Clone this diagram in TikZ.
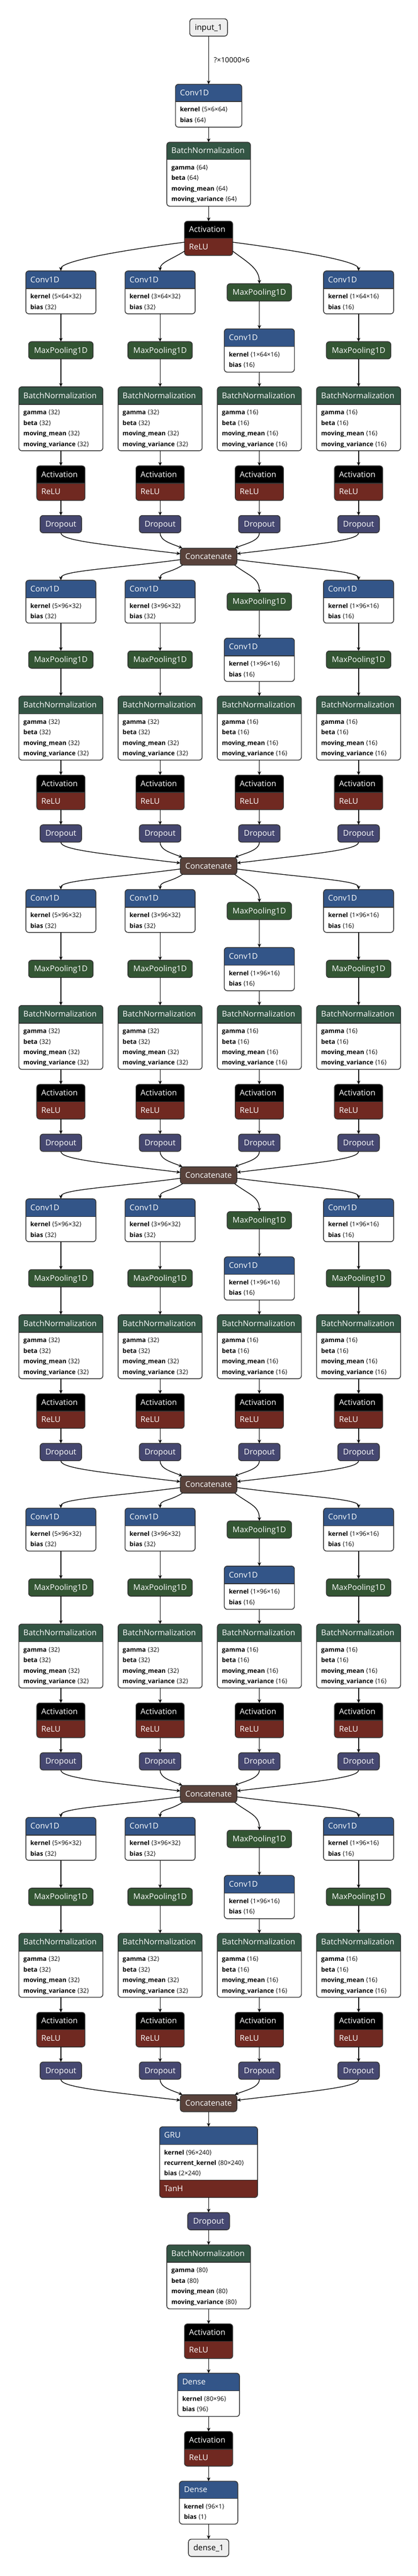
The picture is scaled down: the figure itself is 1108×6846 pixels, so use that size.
\documentclass[tikz,border=0pt]{standalone}
\usepackage{fontspec}
\setmainfont{Open Sans}
\newfontfamily\brk{DejaVu Sans}
\usetikzlibrary{arrows.meta}

\definecolor{layercol}{HTML}{335588}
\definecolor{normcol}{HTML}{335544}
\definecolor{poolcol}{HTML}{335533}
\definecolor{actcol}{HTML}{702921}
\definecolor{dropcol}{HTML}{454770}
\definecolor{tensorcol}{HTML}{59423B}
\definecolor{iocol}{HTML}{EEEEEE}
\definecolor{linecol}{HTML}{333333}

\tikzset{
  % Netron like arrow tips
  >={Stealth[length=10pt,width=9pt,inset=3pt]},
  line/.style={draw, line width=1.8pt, ->},
  frame/.style={rectangle, inner sep=0pt, outer sep=0pt, anchor=north},
  border/.style={draw=linecol, line width=2pt, rounded corners=8pt},
  sepline/.style={draw=linecol, line width=2pt},
  headtxt/.style={anchor=base west, inner sep=0pt, text=white, font=\fontsize{21}{25}\selectfont},
  bodytxt/.style={anchor=base west, inner sep=0pt, font=\fontsize{16.5}{20}\selectfont},
  opbox/.style={frame, draw=linecol, line width=2pt, rounded corners=8pt, text height=16pt, text depth=2pt, font=\fontsize{21}{25}\selectfont}
}

\newcommand{\dims}[1]{{\brk ⟨}#1{\brk ⟩}}

% name, centre x, width, top, bottom, split, colour, title, attributes
\newcommand{\layer}[9]{%
  \node[frame, minimum width=#3pt, minimum height={((#5)-(#4))*1pt}] (#1) at (#2,#4) {};
  \begin{scope}
    \clip[rounded corners=8pt] (#1.north west) rectangle (#1.south east);
    \fill[white] (#1.north west) rectangle (#1.south east);
    \fill[#7] (#1.north west) rectangle ({(#2)+(#3)/2},#6);
  \end{scope}
  \draw[sepline] ({(#2)-(#3)/2},#6) -- ({(#2)+(#3)/2},#6);
  \draw[border] (#1.north west) rectangle (#1.south east);
  \node[headtxt] at ({(#2)-(#3)/2+12},{((#4)+(#6))/2+7}) {#8};
  \foreach \nm/\val [count=\k] in {#9}
    \node[bodytxt] at ({(#2)-(#3)/2+12},{(#6)+27+28*(\k-1)}) {\textbf{\nm} \dims{\val}};
}

% name, centre x, top, bottom, split
\newcommand{\actbox}[5]{%
  \node[frame, minimum width=128pt, minimum height={((#4)-(#3))*1pt}] (#1) at (#2,#3) {};
  \begin{scope}
    \clip[rounded corners=8pt] (#1.north west) rectangle (#1.south east);
    \fill[actcol] (#1.north west) rectangle (#1.south east);
    \fill[black] (#1.north west) rectangle ({(#2)+64},#5);
  \end{scope}
  \draw[sepline] ({(#2)-64},#5) -- ({(#2)+64},#5);
  \draw[border] (#1.north west) rectangle (#1.south east);
  \node[headtxt] at ({(#2)-52},{((#3)+(#5))/2+7}) {Activation};
  \node[headtxt] at ({(#2)-52},{((#5)+(#4))/2+7}) {ReLU};
}

\begin{document}
\begin{tikzpicture}[x=1pt, y=-1pt]
  \fill[white] (0,0) rectangle (1108,6846);
  \useasboundingbox (0,0) rectangle (1108,6846);

  % stem
  \node[opbox, fill=iocol, text=black, minimum width=100pt, minimum height=46pt] (input) at (553.5,50) {input\_1};
  \layer{conv0}{553.5}{176}{224}{338}{270}{layercol}{Conv1D}{kernel/5×6×64, bias/64}
  \layer{bn0}{553.5}{222}{378}{548}{424}{normcol}{BatchNormalization}{gamma/64, beta/64, moving\_mean/64, moving\_variance/64}
  \actbox{act0}{553.5}{588}{679}{633}

  \draw[line] (input.south) -- node[anchor=west, xshift=13pt, inner sep=0pt, font=\fontsize{19}{22}\selectfont] {?×10000×6} (conv0.north);
  \draw[line] (conv0.south) -- (bn0.north);
  \draw[line] (bn0.south) -- (act0.north);

  % inception blocks
  \foreach \i in {1,...,6} {
    \pgfmathsetmacro{\dy}{822*(\i-1)}
    \ifnum\i=1
      \def\chin{64}\def\src{act0}\def\aA{189}\def\aB{208}\def\aC{332}\def\aD{351}
    \else
      \pgfmathtruncatemacro{\prev}{\i-1}
      \edef\src{cat\prev}\def\chin{96}\def\aA{186}\def\aB{198}\def\aC{342}\def\aD{354}
    \fi
    \layer{convA\i}{161.5}{186}{720+\dy}{834+\dy}{767+\dy}{layercol}{Conv1D}{kernel/5×\chin×32, bias/32}
    \layer{convB\i}{424.8}{186}{720+\dy}{834+\dy}{767+\dy}{layercol}{Conv1D}{kernel/3×\chin×32, bias/32}
    \node[opbox, fill=poolcol, text=white, minimum width=171pt, minimum height=46pt] (poolC\i) at (688.1,754+\dy) {MaxPooling1D};
    \layer{convD\i}{951.4}{186}{720+\dy}{834+\dy}{767+\dy}{layercol}{Conv1D}{kernel/1×\chin×16, bias/16}

    \node[opbox, fill=poolcol, text=white, minimum width=171pt, minimum height=46pt] (poolA\i) at (161.5,908+\dy) {MaxPooling1D};
    \node[opbox, fill=poolcol, text=white, minimum width=171pt, minimum height=46pt] (poolB\i) at (424.8,908+\dy) {MaxPooling1D};
    \layer{convC\i}{688.1}{186}{874+\dy}{989+\dy}{921+\dy}{layercol}{Conv1D}{kernel/1×\chin×16, bias/16}
    \node[opbox, fill=poolcol, text=white, minimum width=171pt, minimum height=46pt] (poolD\i) at (951.4,908+\dy) {MaxPooling1D};

    \foreach \col/\cx/\nv in {A/161.5/32, B/424.8/32, C/688.1/16, D/951.4/16} {
      \layer{bn\col\i}{\cx}{223}{1028+\dy}{1198+\dy}{1075+\dy}{normcol}{BatchNormalization}{gamma/\nv, beta/\nv, moving\_mean/\nv, moving\_variance/\nv}
      \actbox{act\col\i}{\cx}{1238+\dy}{1330+\dy}{1284+\dy}
      \node[opbox, fill=dropcol, text=white, minimum width=110pt, minimum height=46pt] (drop\col\i) at (\cx,1370+\dy) {Dropout};
      \draw[line] (bn\col\i.south) -- (act\col\i.north);
      \draw[line] (act\col\i.south) -- (drop\col\i.north);
    }
    \node[opbox, fill=tensorcol, text=white, minimum width=150pt, minimum height=45pt] (cat\i) at (553.5,1457+\dy) {Concatenate};

    % edges into the block
    \draw[line] (\src.\aA) .. controls +(-190,25) and +(0,-25) .. (convA\i.north);
    \draw[line] (\src.\aB) .. controls +(-35,22) and +(0,-22) .. (convB\i.north);
    \draw[line] (\src.\aC) .. controls +(40,30) and +(0,-40) .. (poolC\i.north);
    \draw[line] (\src.\aD) .. controls +(190,25) and +(0,-25) .. (convD\i.north);
    \draw[line] (convA\i.south) -- (poolA\i.north);
    \draw[line] (convB\i.south) -- (poolB\i.north);
    \draw[line] (poolC\i.south) -- (convC\i.north);
    \draw[line] (convD\i.south) -- (poolD\i.north);
    \draw[line] (poolA\i.south) -- (bnA\i.north);
    \draw[line] (poolB\i.south) -- (bnB\i.north);
    \draw[line] (convC\i.south) -- (bnC\i.north);
    \draw[line] (poolD\i.south) -- (bnD\i.north);
    % edges into concatenate
    \draw[line] (dropA\i.south) .. controls +(0,20) and +(-220,-26) .. (cat\i.174);
    \draw[line] (dropB\i.south) .. controls +(0,22) and +(-28,-12) .. (cat\i.162);
    \draw[line] (dropC\i.south) .. controls +(0,22) and +(28,-12) .. (cat\i.18);
    \draw[line] (dropD\i.south) .. controls +(0,20) and +(220,-26) .. (cat\i.6);
  }

  % recurrent head
  \node[frame, minimum width=260pt, minimum height=188pt] (gru) at (553.5,5652) {};
  \begin{scope}
    \clip[rounded corners=8pt] (gru.north west) rectangle (gru.south east);
    \fill[actcol] (gru.north west) rectangle (gru.south east);
    \fill[white] (423.5,5699) rectangle (683.5,5794);
    \fill[layercol] (gru.north west) rectangle (683.5,5699);
  \end{scope}
  \draw[sepline] (423.5,5699) -- (683.5,5699);
  \draw[sepline] (423.5,5794) -- (683.5,5794);
  \draw[border] (gru.north west) rectangle (gru.south east);
  \node[headtxt] at (435.5,5682) {GRU};
  \foreach \nm/\val [count=\k] in {kernel/96×240, recurrent\_kernel/80×240, bias/2×240}
    \node[bodytxt] at (435.5,{5726+28*(\k-1)}) {\textbf{\nm} \dims{\val}};
  \node[headtxt] at (435.5,5824) {TanH};

  \node[opbox, fill=dropcol, text=white, minimum width=111pt, minimum height=46pt] (drop7) at (553.5,5880) {Dropout};
  \layer{bn7}{553.5}{222}{5966}{6136}{6012}{normcol}{BatchNormalization}{gamma/80, beta/80, moving\_mean/80, moving\_variance/80}
  \actbox{act7}{553.5}{6176}{6268}{6222}
  \layer{dense0}{553.5}{164}{6307}{6422}{6354}{layercol}{Dense}{kernel/80×96, bias/96}
  \actbox{act8}{553.5}{6462}{6554}{6509}
  \layer{dense1}{553.5}{155}{6594}{6708}{6640}{layercol}{Dense}{kernel/96×1, bias/1}
  \node[opbox, fill=iocol, text=black, minimum width=107pt, minimum height=46pt] (output) at (553.5,6748) {dense\_1};

  \draw[line] (cat6.south) -- (gru.north);
  \draw[line] (gru.south) -- (drop7.north);
  \draw[line] (drop7.south) -- (bn7.north);
  \draw[line] (bn7.south) -- (act7.north);
  \draw[line] (act7.south) -- (dense0.north);
  \draw[line] (dense0.south) -- (act8.north);
  \draw[line] (act8.south) -- (dense1.north);
  \draw[line] (dense1.south) -- (output.north);
\end{tikzpicture}
\end{document}
